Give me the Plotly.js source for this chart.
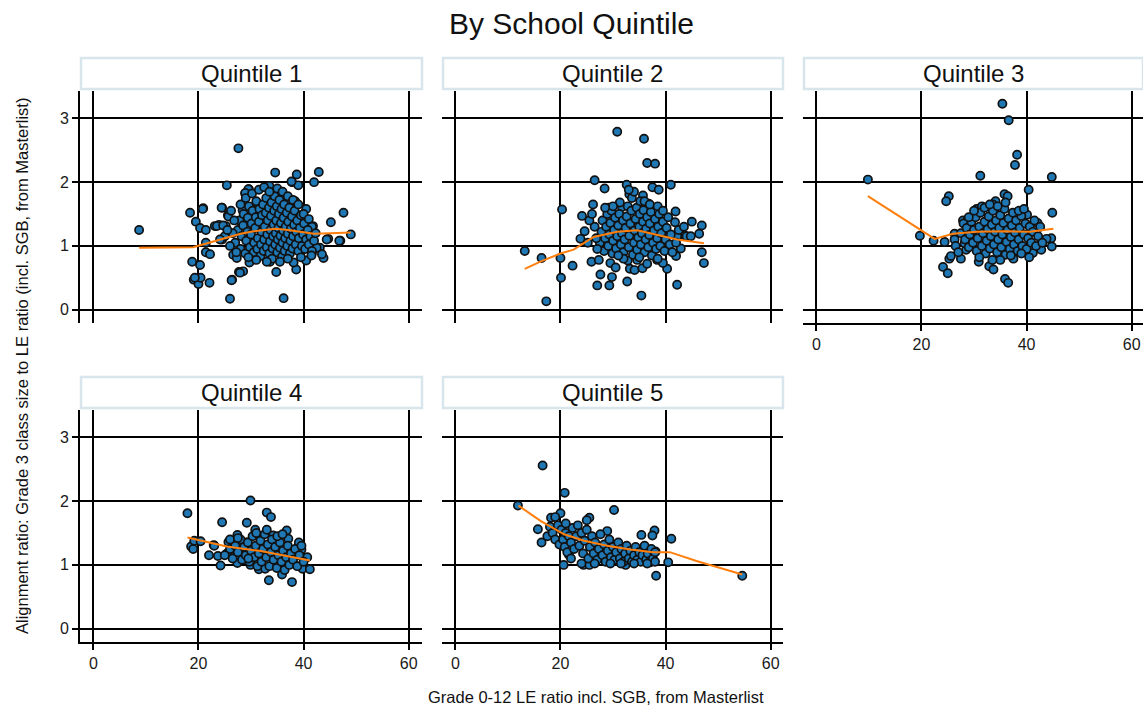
<!DOCTYPE html>
<html>
<head>
<meta charset="utf-8">
<script src="https://cdn.plot.ly/plotly-3.0.1.min.js"></script>
<style>
  html, body { margin: 0; padding: 0; background: #ffffff; }
  #chart { width: 1143px; height: 706px; }
</style>
</head>
<body>
<div id="chart"></div>
<script>
// ---------------- DATA ----------------
const panelTitles = ["Quintile 1", "Quintile 2", "Quintile 3", "Quintile 4", "Quintile 5"];
const chartTitle = "By School Quintile";
const xTitle = "Grade 0-12 LE ratio incl. SGB, from Masterlist";
const yTitle = "Alignment ratio: Grade 3 class size to LE ratio (incl. SGB, from Masterlist)";
const xTickVals = [0, 20, 40, 60];
const yTickVals = [0, 1, 2, 3];

// Quintile 1 points [LE ratio, alignment ratio]
const q1Points = [
 [8.7,1.25],[27.6,2.53],[18.4,1.52],[19.5,1.38],[20.9,1.59],[20.3,1.28],[21.4,1.25],[18.8,0.75],[20.3,0.70],[19.1,0.47],
 [20.0,0.40],[20.4,0.50],[22.1,0.42],[21.4,0.90],[22.2,0.87],[21.4,1.05],[26.0,0.17],[26.4,0.47],[36.2,0.18],[25.4,1.95],
 [23.1,1.31],[23.9,1.33],[24.5,1.60],[25.6,1.48],[25.2,1.31],[24.5,1.10],[25.0,1.15],[27.7,0.59],[28.5,0.60],[28.9,1.82],
 [29.6,1.89],[34.6,2.15],[38.7,2.12],[37.8,2.00],[39.0,1.95],[42.9,2.16],[42.0,2.00],[33.5,1.94],[40.5,1.58],[45.2,1.37],
 [47.6,1.52],[49.0,1.18],[47.0,1.08],[44.7,1.11],[43.8,0.81],[43.1,0.97],[41.8,1.31],[38.6,0.63],[34.8,0.59],[33.6,0.75],
 [40.5,0.77],[36.8,1.73],[38.4,1.70],[29.5,1.89],[28.9,1.83],[37.7,2.01],[43.5,0.87],[41.6,0.89],[42.5,0.97],[38.1,0.74],
 [26.3,0.46],[27.9,0.58],[19.3,0.50],[20.8,1.58],[24.4,1.60],[25.7,1.46],[23.5,1.31],[24.7,1.32],[24.1,1.10],[26.6,0.86],
 [27.3,0.81],[29.7,0.74],[31.0,0.81],[40.6,1.13],[41.6,1.30],[31.1,1.68],[28.4,1.56],[44.4,1.10],[46.8,1.08],
 [27.0,1.05],[27.5,1.25],[27.8,1.40],[28.0,0.95],[28.2,1.15],[28.5,1.32],[28.6,1.50],[28.9,0.88],[29.1,1.08],[29.3,1.22],
 [29.4,1.44],[29.6,1.62],[29.8,0.98],[30.0,1.18],[30.1,1.35],[30.3,1.55],[30.5,0.90],[30.6,1.05],[30.8,1.28],[30.9,1.45],
 [31.0,1.70],[31.2,0.95],[31.3,1.12],[31.5,1.38],[31.6,1.58],[31.8,0.84],[31.9,1.02],[32.0,1.22],[32.1,1.48],[32.3,1.65],
 [32.4,0.92],[32.5,1.10],[32.6,1.30],[32.8,1.52],[32.9,1.75],[33.0,0.98],[33.1,1.18],[33.2,1.40],[33.4,1.60],[33.5,0.88],
 [33.6,1.07],[33.7,1.25],[33.8,1.47],[33.9,1.68],[34.0,0.80],[34.1,0.96],[34.2,1.15],[34.3,1.33],[34.4,1.55],[34.5,1.78],
 [34.6,1.02],[34.7,1.20],[34.8,1.40],[34.9,1.62],[35.0,0.90],[35.1,1.10],[35.2,1.28],[35.3,1.50],[35.4,1.72],[35.5,0.97],
 [35.6,1.16],[35.7,1.36],[35.8,1.58],[35.9,0.83],[36.0,1.05],[36.1,1.24],[36.2,1.44],[36.3,1.65],[36.4,0.92],[36.5,1.12],
 [36.6,1.30],[36.8,1.52],[36.9,1.00],[37.0,1.19],[37.1,1.38],[37.3,1.60],[37.4,0.88],[37.5,1.08],[37.6,1.27],[37.8,1.46],
 [37.9,0.96],[38.0,1.15],[38.2,1.33],[38.3,1.55],[38.5,1.02],[38.6,1.22],[38.8,1.40],[39.0,0.92],[39.1,1.12],[39.3,1.28],
 [39.5,1.48],[39.7,1.00],[39.9,1.18],[40.1,1.35],[40.3,0.95],[40.5,1.10],[40.8,1.25],[41.0,1.02],[41.3,1.15],[41.6,0.92],
 [42.0,1.08],[42.3,1.20],[26.5,1.20],[26.8,1.40],[27.2,0.90],[26.0,1.00],[25.5,1.25],[26.2,1.55],[28.0,1.65],[29.0,1.75],
 [30.2,1.82],[31.5,1.88],[32.5,1.92],[33.5,1.85],[35.0,1.90],[36.0,1.85],[37.0,1.78],[38.0,1.72],[39.0,1.65],[40.0,1.50],
 [41.0,1.42],[33.0,0.75],[31.0,0.78],[29.5,0.82],[35.5,0.75],[37.0,0.80],[39.5,0.82],[41.5,0.85]
];
const q1LowX = [8.7, 15.0, 19.0, 22.0, 25.4, 28.0, 30.5, 33.0, 34.6, 37.0, 39.5, 42.0, 45.0, 49.0];
const q1LowY = [0.97, 0.97, 0.98, 1.05, 1.13, 1.19, 1.23, 1.26, 1.27, 1.25, 1.22, 1.19, 1.20, 1.21];

// Quintile 2
const q2Points = [
 [30.8,2.79],[35.9,2.68],[36.5,2.30],[38.0,2.29],[26.5,2.03],[28.4,1.90],[32.6,1.96],[37.5,1.92],[38.7,1.88],[41.0,1.96],
 [20.3,1.57],[26.2,1.65],[24.1,1.47],[24.6,1.23],[23.8,1.11],[13.2,0.92],[16.4,0.81],[20.0,0.81],[20.1,0.50],[17.3,0.13],
 [22.3,0.69],[25.9,0.75],[27.3,0.78],[27.6,0.55],[27.0,0.38],[29.3,0.38],[29.8,0.51],[29.5,0.73],[30.5,0.66],[32.7,0.44],
 [35.4,0.22],[42.2,0.39],[40.3,0.64],[42.0,0.84],[42.9,0.96],[41.9,1.54],[41.8,1.37],[45.0,1.38],[46.9,1.32],[46.4,1.19],
 [46.9,0.90],[47.3,0.73],[43.7,1.16],[42.2,1.15],[33.2,0.64],[34.1,0.62],[35.6,0.65],[32.8,0.77],[34.6,0.78],[38.4,0.78],
 [39.5,0.73],[35.7,1.79],[33.1,1.81],[36.8,1.66],[29.2,1.60],[31.7,1.61],
 [27.5,1.05],[27.8,1.22],[28.0,1.40],[28.3,0.92],[28.5,1.12],[28.7,1.30],[28.9,1.50],[29.1,1.00],[29.3,1.18],[29.5,1.36],
 [29.7,1.55],[29.9,0.88],[30.0,1.08],[30.2,1.25],[30.4,1.44],[30.6,0.96],[30.8,1.15],[31.0,1.32],[31.2,1.50],[31.3,1.68],
 [31.5,1.02],[31.7,1.20],[31.9,1.40],[32.0,0.90],[32.2,1.10],[32.4,1.28],[32.6,1.46],[32.8,1.62],[33.0,0.98],[33.1,1.16],
 [33.3,1.35],[33.5,1.55],[33.6,1.75],[33.8,0.86],[34.0,1.05],[34.1,1.24],[34.3,1.42],[34.5,1.60],[34.6,0.94],[34.8,1.13],
 [35.0,1.30],[35.1,1.50],[35.3,1.02],[35.5,1.20],[35.7,1.38],[35.8,1.56],[36.0,0.90],[36.2,1.10],[36.3,1.27],[36.5,1.45],
 [36.7,0.98],[36.9,1.17],[37.0,1.35],[37.2,1.53],[37.4,0.85],[37.6,1.05],[37.8,1.24],[38.0,1.42],[38.2,0.95],[38.4,1.12],
 [38.6,1.30],[38.8,1.50],[39.0,1.00],[39.2,1.20],[39.5,1.38],[39.8,0.92],[40.0,1.10],[40.2,1.28],[40.5,1.45],[40.8,1.02],
 [41.0,1.18],[41.3,0.90],[26.5,1.30],[26.8,1.12],[27.0,0.95],[25.5,1.40],[26.0,1.50],[25.2,1.05],[34.0,1.85],[33.0,1.88],
 [35.2,1.70],[36.0,1.70],[37.0,1.65],[38.5,1.62],[39.5,1.55],[30.0,1.62],[28.5,1.60],[32.0,0.80],[35.0,0.82],[38.5,0.80],
 [36.5,0.72],[31.0,0.85],[42.5,1.25],[43.5,1.30],[44.0,1.15],[44.8,1.15],[42.0,1.05]
];
const q2LowX = [13.2, 16.4, 20.0, 22.5, 26.3, 30.8, 34.6, 38.4, 42.2, 47.3];
const q2LowY = [0.64, 0.76, 0.88, 0.94, 1.14, 1.22, 1.245, 1.17, 1.10, 1.04];

// Quintile 3
const q3Points = [
 [9.8,2.04],[35.4,3.23],[36.6,2.97],[38.2,2.43],[37.8,2.27],[31.2,2.10],[44.8,2.08],[40.4,1.88],[25.2,1.78],[24.7,1.70],
 [35.8,1.81],[36.4,1.78],[34.1,1.70],[44.9,1.52],[19.7,1.16],[22.3,1.08],[24.4,1.06],[26.3,1.19],[26.3,1.10],[24.1,0.67],
 [25.0,0.57],[25.3,0.80],[25.6,0.84],[27.5,0.80],[30.9,0.75],[32.9,0.68],[33.7,0.63],[35.9,0.48],[36.5,0.42],[28.5,0.94],
 [28.2,1.04],[27.9,1.40],[28.8,1.41],[42.8,0.94],[41.2,0.89],[44.8,0.99],[44.7,1.12],[43.8,1.11],[42.1,1.36],[40.1,1.49],
 [37.5,0.80],[34.8,0.81],[33.6,1.65],[30.5,1.58],[31.5,1.62],
 [27.5,1.20],[28.0,1.35],[28.3,1.10],[28.6,1.28],[29.0,0.98],[29.2,1.18],[29.5,1.38],[29.8,1.05],[30.0,1.25],[30.3,1.45],
 [30.5,0.92],[30.7,1.12],[31.0,1.30],[31.2,1.52],[31.5,1.00],[31.7,1.20],[32.0,1.38],[32.2,0.88],[32.4,1.08],[32.6,1.26],
 [32.8,1.46],[33.0,0.96],[33.2,1.15],[33.4,1.33],[33.6,1.55],[33.8,1.02],[34.0,1.22],[34.2,1.40],[34.4,0.90],[34.6,1.10],
 [34.8,1.28],[35.0,1.48],[35.2,0.98],[35.4,1.18],[35.6,1.36],[35.8,1.58],[36.0,0.86],[36.2,1.06],[36.4,1.25],[36.6,1.43],
 [36.8,0.95],[37.0,1.14],[37.2,1.32],[37.4,1.52],[37.6,1.02],[37.8,1.21],[38.0,1.40],[38.3,0.92],[38.5,1.10],[38.7,1.28],
 [39.0,1.47],[39.2,1.00],[39.5,1.18],[39.8,1.35],[40.0,0.95],[40.3,1.12],[40.6,1.30],[40.9,1.05],[41.2,1.22],[41.5,1.40],
 [41.8,1.00],[42.2,1.15],[42.6,1.30],[43.0,1.05],[29.0,1.45],[30.0,1.55],[32.0,1.60],[33.0,1.65],[34.5,1.62],[36.0,1.68],
 [38.5,1.55],[39.5,1.58],[26.5,1.00],[27.0,0.90],[31.0,0.82],[35.0,0.78],[37.0,0.85],[39.0,0.88],[40.5,0.82],[33.5,0.78]
];
const q3LowX = [9.8, 22.5, 26.0, 30.5, 35.6, 40.6, 45.1];
const q3LowY = [1.78, 1.11, 1.19, 1.22, 1.23, 1.22, 1.27];

// Quintile 4
const q4Points = [
 [17.9,1.81],[18.6,1.29],[19.0,1.25],[19.2,1.38],[20.4,1.37],[22.9,1.31],[23.7,1.14],[24.2,0.99],[24.5,1.67],[29.9,2.01],
 [29.2,1.66],[33.0,1.82],[33.8,1.75],[27.4,1.47],[30.8,1.55],[25.7,1.36],[25.4,1.18],[26.95,1.14],[27.4,1.03],[29.9,1.00],
 [31.5,0.93],[32.7,0.94],[33.4,0.76],[35.9,0.85],[37.8,0.73],[34.2,1.46],[36.8,1.54],[37.1,1.41],[39.1,1.35],[39.6,1.24],
 [40.7,1.12],[39.8,0.94],[41.2,0.93],[37.9,1.05],[36.5,1.02],[34.3,1.00],[29.2,1.35],[28.9,1.24],
 [26.0,1.25],[26.5,1.10],[27.0,1.30],[27.5,1.20],[28.0,1.40],[28.3,1.08],[28.7,1.28],[29.0,1.15],[29.4,1.35],[29.7,1.05],
 [30.0,1.22],[30.3,1.45],[30.6,1.12],[30.9,1.30],[31.2,0.98],[31.5,1.18],[31.8,1.38],[32.0,1.05],[32.3,1.25],[32.6,1.48],
 [32.9,1.12],[33.2,1.32],[33.5,0.98],[33.8,1.20],[34.0,1.40],[34.3,1.08],[34.6,1.28],[34.9,0.95],[35.2,1.15],[35.5,1.35],
 [35.8,1.05],[36.1,1.22],[36.4,0.92],[36.7,1.12],[37.0,1.30],[37.3,1.00],[37.6,1.18],[38.0,1.08],[38.4,1.25],[38.8,0.98],
 [39.2,1.15],[39.6,1.30],[40.0,1.05],[22.0,1.15],[23.0,1.30],[25.0,1.15],[26.0,1.40],[27.5,1.42],[31.0,1.50],[33.0,1.55],
 [35.0,1.45],[36.0,1.48],[29.5,1.10]
];
const q4LowX = [17.9, 25.4, 31.6, 36.8, 41.2];
const q4LowY = [1.43, 1.29, 1.22, 1.145, 1.07];

// Quintile 5
const q5Points = [
 [11.9,1.93],[16.6,2.56],[20.8,2.13],[30.2,1.86],[25.5,1.74],[18.2,1.74],[20.0,1.81],[15.7,1.56],[16.4,1.35],[20.6,1.00],
 [21.6,1.16],[24.4,1.00],[25.5,1.00],[28.9,1.53],[32.4,1.00],[37.9,1.54],[37.5,1.46],[35.4,1.47],[38.2,0.83],[41.1,1.41],
 [40.5,1.04],[54.6,0.83],[37.1,1.04],[38.1,1.21],
 [17.5,1.45],[18.0,1.60],[18.5,1.50],[19.0,1.40],[19.5,1.62],[19.8,1.32],[20.2,1.55],[20.5,1.40],[20.8,1.28],[21.0,1.50],
 [21.3,1.20],[21.6,1.45],[22.0,1.35],[22.3,1.58],[22.6,1.25],[23.0,1.45],[23.3,1.62],[23.6,1.30],[24.0,1.50],[24.3,1.18],
 [24.6,1.38],[25.0,1.55],[25.3,1.10],[25.6,1.28],[26.0,1.45],[26.3,1.18],[26.6,1.35],[27.0,1.08],[27.3,1.25],[27.6,1.48],
 [28.0,1.15],[28.3,1.32],[28.6,1.05],[29.0,1.22],[29.3,1.40],[29.6,1.12],[30.0,1.28],[30.3,1.08],[30.6,1.20],[31.0,1.35],
 [31.3,1.10],[31.6,1.25],[32.0,1.05],[32.3,1.18],[32.6,1.30],[33.0,1.10],[33.3,1.22],[33.6,1.05],[34.0,1.15],[34.3,1.28],
 [34.6,1.08],[35.0,1.20],[35.3,1.05],[35.6,1.15],[36.0,1.30],[36.3,1.08],[36.6,1.18],[37.0,1.05],[37.3,1.25],[37.6,1.10],
 [38.0,1.20],[38.0,1.05],[22.0,1.10],[24.0,1.02],[26.5,1.02],[29.5,1.02],[31.5,1.02],[34.0,1.02],[36.5,1.02],[25.0,1.70],
 [21.0,1.65],[19.0,1.75]
];
const q5LowX = [12.0, 16.2, 20.7, 24.5, 28.9, 33.3, 37.6, 40.8, 45.9, 54.6];
const q5LowY = [1.93, 1.69, 1.48, 1.38, 1.30, 1.24, 1.20, 1.20, 1.06, 0.85];

// ---------------- BUILD ----------------
const W = 1143, H = 706;
const FONT = "Liberation Sans, Arial, Helvetica, sans-serif";
const panels = [
  {pts: q1Points, lx: q1LowX, ly: q1LowY},
  {pts: q2Points, lx: q2LowX, ly: q2LowY},
  {pts: q3Points, lx: q3LowX, ly: q3LowY},
  {pts: q4Points, lx: q4LowX, ly: q4LowY},
  {pts: q5Points, lx: q5LowX, ly: q5LowY}
];
// panel pixel boxes [left, right, top, bottom]
const boxes = [
  [80, 422, 91, 323],
  [442, 783, 91, 323],
  [803, 1143, 91, 323],
  [80, 422, 410, 642],
  [442, 783, 410, 642]
];
const headerRows = [[58, 89], [58, 89], [58, 89], [377, 408], [377, 408]];
const pxPerUnitX = 5.254;
const xMin = -2.55;

const data = [];
const layout = {
  width: W, height: H,
  margin: {l: 0, r: 0, t: 0, b: 0},
  paper_bgcolor: "#ffffff",
  plot_bgcolor: "#ffffff",
  showlegend: false,
  font: {family: FONT, color: "#1a1a1a"},
  title: {text: chartTitle, x: 0.5, xanchor: "center", y: 1 - 23 / H, yanchor: "middle",
          font: {family: FONT, size: 30, color: "#111"}},
  shapes: [],
  annotations: []
};

panels.forEach((p, i) => {
  const n = i === 0 ? "" : String(i + 1);
  const b = boxes[i];
  data.push({
    type: "scatter", mode: "markers",
    x: p.pts.map(d => d[0]), y: p.pts.map(d => d[1]),
    xaxis: "x" + n, yaxis: "y" + n,
    marker: {size: 8.2, color: "#1f77b4", line: {color: "#111111", width: 1.7}},
    hoverinfo: "skip"
  });
  data.push({
    type: "scatter", mode: "lines",
    x: p.lx, y: p.ly,
    xaxis: "x" + n, yaxis: "y" + n,
    line: {color: "#ff7f0e", width: 2},
    hoverinfo: "skip"
  });
  const bottomRow = (i >= 2);
  const leftCol = (i === 0 || i === 3);
  const xMax = xMin + (b[1] - b[0]) / pxPerUnitX;
  layout["xaxis" + n] = {
    domain: [b[0] / W, b[1] / W],
    anchor: "y" + n,
    range: [xMin, xMax],
    tickvals: xTickVals,
    showgrid: true, gridcolor: "#000000", gridwidth: 2,
    zeroline: false,
    showline: bottomRow, linecolor: "#000000", linewidth: 2,
    ticks: bottomRow ? "outside" : "", ticklen: 6, tickwidth: 2, tickcolor: "#000000",
    showticklabels: bottomRow,
    tickfont: {family: FONT, size: 16, color: "#1a1a1a"},
    fixedrange: true
  };
  layout["yaxis" + n] = {
    domain: [1 - b[3] / H, 1 - b[2] / H],
    anchor: "x" + n,
    range: [-0.21, 3.43],
    tickvals: yTickVals,
    showgrid: true, gridcolor: "#000000", gridwidth: 2,
    zeroline: false,
    showline: leftCol, linecolor: "#000000", linewidth: 2,
    ticks: leftCol ? "outside" : "", ticklen: 6, tickwidth: 2, tickcolor: "#000000",
    showticklabels: leftCol,
    tickfont: {family: FONT, size: 16, color: "#1a1a1a"},
    fixedrange: true
  };
  // header box
  const hr = headerRows[i];
  layout.shapes.push({
    type: "rect", xref: "paper", yref: "paper",
    x0: (b[0] + 1) / W, x1: Math.min(b[1], W + 5) / W,
    y0: 1 - hr[1] / H, y1: 1 - hr[0] / H,
    fillcolor: "#ffffff", line: {color: "#d8e5ec", width: 2.5}
  });
  layout.annotations.push({
    xref: "paper", yref: "paper",
    x: ((b[0] + Math.min(b[1], 1145)) / 2) / W, y: 1 - ((hr[0] + hr[1]) / 2) / H,
    text: panelTitles[i], showarrow: false,
    xanchor: "center", yanchor: "middle",
    font: {family: FONT, size: 24, color: "#111"}
  });
});

layout.annotations.push({
  xref: "paper", yref: "paper", x: 22 / W, y: 1 - 366 / H,
  text: yTitle, showarrow: false, textangle: -90,
  xanchor: "center", yanchor: "middle",
  font: {family: FONT, size: 16.5, color: "#111"}
});
layout.annotations.push({
  xref: "paper", yref: "paper", x: 596 / W, y: 1 - 697 / H,
  text: xTitle, showarrow: false,
  xanchor: "center", yanchor: "middle",
  font: {family: FONT, size: 16.5, color: "#111"}
});

Plotly.newPlot("chart", data, layout, {staticPlot: true, displayModeBar: false});
</script>
</body>
</html>
